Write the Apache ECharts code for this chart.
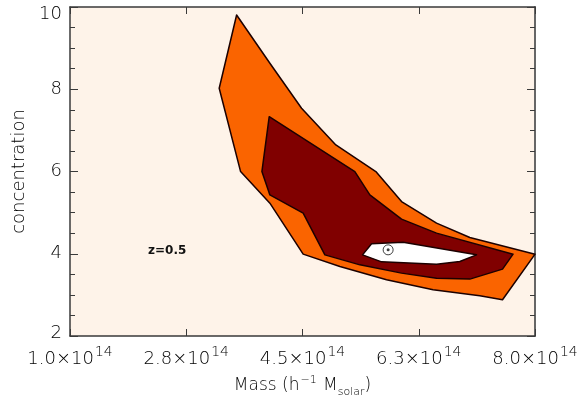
<!DOCTYPE html>
<html>
<head>
<meta charset="utf-8">
<script src="https://cdn.jsdelivr.net/npm/echarts@6/dist/echarts.min.js"></script>
<style>
  html, body { margin: 0; padding: 0; background: #ffffff; }
  #chart { width: 582px; height: 400px; }
</style>
</head>
<body>
<div id="chart"></div>
<script>
// Mass in units of 1e14 h^-1 M_solar, concentration dimensionless
const massTicks = [1.0, 2.75, 4.5, 6.25, 8.0];
const massTickLabels = ['1.0', '2.8', '4.5', '6.3', '8.0'];
const concTicks = [2, 4, 6, 8, 10];

// Outer confidence contour
const contourOuter = [
  [3.508, 9.806], [4.009, 8.632], [4.486, 7.538], [5.002, 6.646],
  [5.604, 5.998], [5.991, 5.268], [6.518, 4.744], [7.019, 4.394],
  [8.001, 3.990], [7.511, 2.880], [7.169, 2.977], [6.466, 3.123],
  [5.765, 3.366], [5.063, 3.689], [4.510, 3.990], [4.009, 5.230],
  [3.568, 5.998], [3.246, 8.024]
];
// Inner confidence contour
const contourInner = [
  [3.999, 7.334], [5.288, 5.998], [5.514, 5.431], [5.991, 4.841],
  [6.518, 4.501], [7.670, 3.990], [7.511, 3.626], [7.019, 3.383],
  [6.518, 3.407], [5.991, 3.529], [5.364, 3.730], [4.837, 3.973],
  [4.510, 4.987], [4.009, 5.431], [3.889, 5.998]
];
// Core contour
const contourCore = [
  [5.404, 3.973], [5.540, 4.241], [6.015, 4.282], [7.120, 3.973],
  [6.868, 3.811], [6.518, 3.747], [5.690, 3.803]
];
// Best-fit point
const bestFit = [[5.789, 4.095]];
const redshiftLabel = 'z=0.5';

const FONT = 'DejaVu Sans';
const THIN = 200;
const TEXT_COLOR = '#000';
const AXIS_COLOR = '#3a3a3a';

function polygonSeries(points, fill) {
  return {
    type: 'custom',
    coordinateSystem: 'cartesian2d',
    data: [0],
    silent: true,
    renderItem: function (params, api) {
      return {
        type: 'polygon',
        shape: { points: points.map(function (p) { return api.coord(p); }) },
        style: { fill: fill, stroke: '#1c0000', lineWidth: 1.5, lineJoin: 'round' }
      };
    }
  };
}

const chart = echarts.init(document.getElementById('chart'), null, { renderer: 'canvas' });

function txt(size, extra) {
  return Object.assign({
    fontFamily: FONT, fontSize: size, fontWeight: THIN, color: TEXT_COLOR,
    verticalAlign: 'bottom', lineHeight: 22
  }, extra || {});
}

const yLabelBase = { fontFamily: FONT, fontSize: 18, fontWeight: THIN, color: TEXT_COLOR };

chart.setOption({
  animation: false,
  backgroundColor: '#ffffff',
  grid: {
    left: 70, right: 47, top: 7, bottom: 64,
    containLabel: false, outerBoundsMode: 'none',
    show: true, backgroundColor: '#FEF3E9', borderWidth: 0
  },
  xAxis: [
    {
      type: 'value', position: 'bottom', min: 1, max: 8,
      axisLine: { show: true, onZero: false, lineStyle: { color: AXIS_COLOR, width: 1.5 } },
      axisTick: { show: true, inside: true, length: 7, customValues: massTicks, lineStyle: { color: AXIS_COLOR, width: 1 } },
      axisLabel: {
        customValues: massTicks, margin: 10, showMinLabel: true, showMaxLabel: true,
        formatter: function (v) {
          const i = massTicks.findIndex(function (t) { return Math.abs(t - v) < 1e-6; });
          return '{m|' + massTickLabels[i] + '×10}{s|14}';
        },
        rich: {
          m: txt(18),
          s: txt(14, { padding: [0, 0, 9, 1] })
        }
      },
      splitLine: { show: false },
      name: '{m|Mass (h}{s|−1}{m| M}{b|solar}{m|)}',
      nameLocation: 'middle', nameGap: 36,
      nameTextStyle: {
        rich: {
          m: txt(17),
          s: txt(11, { padding: [0, 1, 8, 1] }),
          b: txt(11, { padding: [0, 0, -4, 0] })
        }
      }
    },
    {
      type: 'value', position: 'top', min: 1, max: 8,
      axisLine: { show: true, onZero: false, lineStyle: { color: AXIS_COLOR, width: 1.5 } },
      axisTick: { show: true, inside: true, length: 7, customValues: massTicks, lineStyle: { color: AXIS_COLOR, width: 1 } },
      axisLabel: { show: false },
      splitLine: { show: false }
    }
  ],
  yAxis: [
    {
      type: 'value', position: 'left', min: 2, max: 10, interval: 2,
      axisLine: { show: true, onZero: false, lineStyle: { color: AXIS_COLOR, width: 1.5 } },
      axisTick: { show: true, inside: true, length: 8, lineStyle: { color: AXIS_COLOR, width: 1 } },
      minorTick: { show: true, splitNumber: 4, length: 5, lineStyle: { color: AXIS_COLOR, width: 1 } },
      axisLabel: {
        margin: 8,
        formatter: function (v) {
          if (concTicks.indexOf(v) < 0) return '';
          if (v === concTicks[concTicks.length - 1]) return '{top|' + v + '}';
          if (v === concTicks[0]) return '{bot|' + v + '}';
          return '{n|' + v + '}';
        },
        rich: {
          n: Object.assign({}, yLabelBase),
          top: Object.assign({ padding: [14, 0, 0, 0] }, yLabelBase),
          bot: Object.assign({ padding: [0, 0, 6, 0] }, yLabelBase)
        }
      },
      splitLine: { show: false },
      name: 'concentration', nameLocation: 'middle', nameGap: 38, nameRotate: 90,
      nameTextStyle: { fontFamily: FONT, fontSize: 18, fontWeight: THIN, color: TEXT_COLOR }
    },
    {
      type: 'value', position: 'right', min: 2, max: 10, interval: 2,
      axisLine: { show: true, onZero: false, lineStyle: { color: '#666', width: 2 } },
      axisTick: { show: true, inside: true, length: 8, lineStyle: { color: AXIS_COLOR, width: 1 } },
      minorTick: { show: true, splitNumber: 4, length: 5, lineStyle: { color: AXIS_COLOR, width: 1 } },
      axisLabel: { show: false },
      splitLine: { show: false }
    }
  ],
  series: [
    polygonSeries(contourOuter, '#FA6400'),
    polygonSeries(contourInner, '#800000'),
    polygonSeries(contourCore, '#ffffff'),
    {
      type: 'scatter', data: bestFit, symbol: 'circle', symbolSize: 10, silent: true,
      itemStyle: { color: 'rgba(255,255,255,0)', borderColor: '#111', borderWidth: 1 }
    },
    {
      type: 'scatter', data: bestFit, symbol: 'circle', symbolSize: 3, silent: true,
      itemStyle: { color: '#111' }
    }
  ],
  graphic: [
    {
      type: 'text', left: 148, top: 245,
      style: { text: redshiftLabel, fontFamily: FONT, fontSize: 12, fontWeight: 'bold', fill: '#111' }
    }
  ]
});
</script>
</body>
</html>
